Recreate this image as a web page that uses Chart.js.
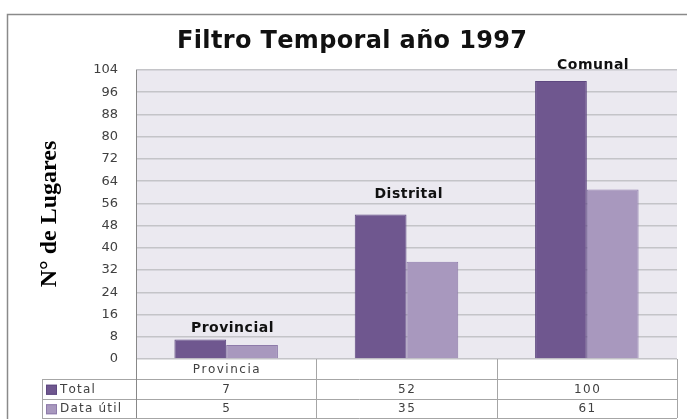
<!DOCTYPE html>
<html>
<head>
<meta charset="utf-8">
<script src="https://cdn.jsdelivr.net/npm/chart.js@4.4.1/dist/chart.umd.min.js"></script>
<style>
html,body{margin:0;padding:0;background:#fff;}
#wrap{position:relative;width:687px;height:419px;}
</style>
</head>
<body>
<div id="wrap"><canvas id="c" width="687" height="419"></canvas></div>
<script>
const categories = ["Provincia", "", ""];
const seriesNames = ["Total", "Data útil"];
const totalValues = [7, 52, 100];
const dataUtilValues = [5, 35, 61];
const groupLabels = ["Provincial", "Distrital", "Comunal"];
const yTicks = [0, 8, 16, 24, 32, 40, 48, 56, 64, 72, 80, 88, 96, 104];
const chartTitle = "Filtro Temporal año 1997";
const yAxisTitle = "N° de Lugares";

const colors = ["#6F578F", "#A898BE"];
const borders = ["#5E4880", "#8E7BAA"];
// per-label pixel lift above tallest bar (styling only)
const labelLift = [11, 20, 16];
const labelShift = [6, 2, 6];

function spaced(ctx, text, x, y, spacingPx, align) {
  const chars = Array.from(text);
  const widths = chars.map(c => ctx.measureText(c).width);
  const total = widths.reduce((s, v) => s + v, 0) + spacingPx * (chars.length - 1);
  let cx = align === 'center' ? x - total / 2 : x;
  const prevAlign = ctx.textAlign;
  ctx.textAlign = 'left';
  chars.forEach((c, i) => { ctx.fillText(c, cx, y); cx += widths[i] + spacingPx; });
  ctx.textAlign = prevAlign;
}
function fitted(ctx, text, x, y, width) {
  const chars = Array.from(text);
  const natural = chars.reduce((s, c) => s + ctx.measureText(c).width, 0);
  spaced(ctx, text, x, y, (width - natural) / (chars.length - 1), 'center');
}

const decor = {
  id: 'decor',
  beforeDraw(chart) {
    const ctx = chart.ctx, a = chart.chartArea;
    ctx.save();
    ctx.fillStyle = '#fff';
    ctx.fillRect(0, 0, chart.width, chart.height);
    ctx.strokeStyle = '#8a8a8a';
    ctx.lineWidth = 1.5;
    ctx.strokeRect(7.5, 14.5, 700, 430);
    ctx.fillStyle = '#EBE9F0';
    ctx.fillRect(a.left, a.top, a.right - a.left, a.bottom - a.top);
    ctx.restore();
  },
  afterDraw(chart) {
    const ctx = chart.ctx, a = chart.chartArea;
    const x = chart.scales.x, y = chart.scales.y;
    ctx.save();
    // title
    ctx.fillStyle = '#111';
    ctx.font = 'bold 24px "DejaVu Sans"';
    ctx.textBaseline = 'alphabetic';
    fitted(ctx, chartTitle, 352, 48, 350);
    // y axis title
    ctx.save();
    ctx.translate(50, 214);
    ctx.rotate(-Math.PI / 2);
    ctx.font = 'bold 24px "Liberation Serif"';
    ctx.fillStyle = '#000';
    ctx.textAlign = 'center';
    ctx.textBaseline = 'middle';
    ctx.fillText(yAxisTitle, 0, 0);
    ctx.restore();
    // group labels
    ctx.font = 'bold 14px "DejaVu Sans"';
    ctx.fillStyle = '#111';
    ctx.textBaseline = 'middle';
    groupLabels.forEach((t, i) => {
      const m = Math.max(totalValues[i], dataUtilValues[i]);
      spaced(ctx, t, x.getPixelForValue(i) + labelShift[i], y.getPixelForValue(m) - labelLift[i], 0.5, 'center');
    });
    // table
    const n = categories.length;
    const colW = (a.right - a.left) / n;
    const r0 = a.bottom, r1 = r0 + 20, r2 = r1 + 19.5, r3 = r2 + 19.5;
    const legLeft = 42;
    ctx.strokeStyle = '#a6a6a6';
    ctx.lineWidth = 1;
    ctx.beginPath();
    [r1, r2, r3].forEach(r => { ctx.moveTo(legLeft, Math.round(r) + 0.5); ctx.lineTo(a.right, Math.round(r) + 0.5); });
    for (let i = 1; i <= n; i++) {
      const xv = Math.round(a.left + colW * i) + 0.5;
      ctx.moveTo(xv, r0); ctx.lineTo(xv, r3);
    }
    ctx.moveTo(legLeft + 0.5, r1); ctx.lineTo(legLeft + 0.5, r3);
    ctx.stroke();
    ctx.strokeStyle = '#888';
    ctx.beginPath();
    ctx.moveTo(Math.round(a.left) + 0.5, a.top);
    ctx.lineTo(Math.round(a.left) + 0.5, r3);
    ctx.stroke();
    // category row
    ctx.font = '12px "DejaVu Sans"';
    ctx.fillStyle = '#404040';
    ctx.textBaseline = 'middle';
    categories.forEach((c, i) => spaced(ctx, c, x.getPixelForValue(i), (r0 + r1) / 2 + 1, 1.5, 'center'));
    const rows = [totalValues, dataUtilValues];
    rows.forEach((vals, ri) => {
      const cy = (ri === 0 ? (r1 + r2) / 2 : (r2 + r3) / 2) + 1;
      ctx.fillStyle = '#404040';
      vals.forEach((v, i) => spaced(ctx, String(v), x.getPixelForValue(i), cy, 1.5, 'center'));
      ctx.fillStyle = colors[ri];
      ctx.fillRect(46, cy - 5, 11, 10);
      ctx.strokeStyle = borders[ri];
      ctx.strokeRect(46.5, cy - 4.5, 10, 9);
      ctx.fillStyle = '#404040';
      spaced(ctx, seriesNames[ri], 60, cy, 1.2, 'left');
    });
    ctx.restore();
  }
};

new Chart(document.getElementById('c'), {
  type: 'bar',
  data: {
    labels: categories,
    datasets: [
      { label: seriesNames[0], data: totalValues, backgroundColor: colors[0], borderColor: borders[0], borderWidth: 1 },
      { label: seriesNames[1], data: dataUtilValues, backgroundColor: colors[1], borderColor: borders[1], borderWidth: 1 }
    ]
  },
  options: {
    responsive: false,
    animation: false,
    devicePixelRatio: 1,
    layout: { padding: { top: 70, bottom: 60, left: 0, right: 10 } },
    plugins: { legend: { display: false }, title: { display: false }, tooltip: { enabled: false } },
    datasets: { bar: { categoryPercentage: 0.574, barPercentage: 1 } },
    scales: {
      x: { display: false },
      y: {
        min: 0, max: 104,
        afterFit(s) { s.width = 136; },
        afterBuildTicks(s) { s.ticks = yTicks.map(v => ({ value: v })); },
        border: { display: false },
        grid: { color: '#C4C4C8', lineWidth: 1.5, drawTicks: false },
        ticks: { padding: 18, color: '#404040', font: { family: 'DejaVu Sans', size: 13 } }
      }
    }
  },
  plugins: [decor]
});
</script>
</body>
</html>
